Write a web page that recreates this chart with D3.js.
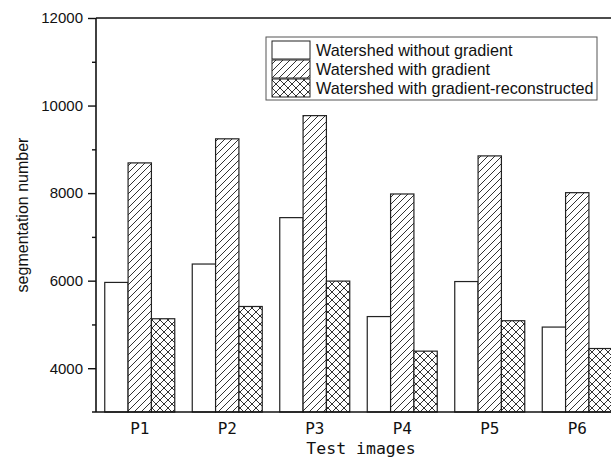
<!DOCTYPE html>
<html><head><meta charset="utf-8">
<script src="https://cdn.jsdelivr.net/npm/d3@7"></script>
<style>body{margin:0;background:#fff}svg{display:block}</style>
</head><body>
<svg id="c" width="611" height="457"></svg>
<script>
const categories = ["P1","P2","P3","P4","P5","P6"];
const seriesNames = ["Watershed without gradient","Watershed with gradient","Watershed with gradient-reconstructed"];
const withoutGradient = [5960, 6380, 7440, 5180, 5980, 4940];
const withGradient = [8690, 9240, 9770, 7980, 8850, 8010];
const reconstructed = [5130, 5410, 5990, 4390, 5085, 4450];
const yTicks = [4000, 6000, 8000, 10000, 12000];
const yMinorTicks = [5000, 7000, 9000, 11000];
const xTitle = "Test images";
const yTitle = "segmentation number";

(function(){
const series = [withoutGradient, withGradient, reconstructed];
const svg = d3.select("#c");
const mLeft = 96, mTop = 18, mBottom = 412;

const defs = svg.append("defs");
const diag = defs.append("pattern").attr("id","diag").attr("patternUnits","userSpaceOnUse")
  .attr("width",7).attr("height",7);
diag.append("rect").attr("width",7).attr("height",7).attr("fill","#fff");
diag.append("path").attr("d","M-1,8 L8,-1 M-4,4 L4,-4 M3,11 L11,3").attr("stroke","#333").attr("stroke-width",1);
const cross = defs.append("pattern").attr("id","cross").attr("patternUnits","userSpaceOnUse")
  .attr("width",8).attr("height",8);
cross.append("rect").attr("width",8).attr("height",8).attr("fill","#fff");
cross.append("path").attr("d","M0,0 L8,8 M0,8 L8,0 M-4,4 L4,12 M4,-4 L12,4 M-4,4 L4,-4 M4,12 L12,4").attr("stroke","#333").attr("stroke-width",1);
const fills = ["#fff","url(#diag)","url(#cross)"];

const x = d3.scaleBand().domain(categories).range([mLeft, mLeft + 525]).paddingInner(0.2).paddingOuter(0.1);
const xs = d3.scaleBand().domain(d3.range(3)).range([0, x.bandwidth()]);
const y = d3.scaleLinear().domain([3000, 12000]).range([mBottom, mTop]);

const g = svg.append("g");
categories.forEach((c, i) => {
  series.forEach((s, k) => {
    g.append("rect")
      .attr("x", x(c) + xs(k)).attr("y", y(s[i]))
      .attr("width", xs.bandwidth()).attr("height", y(3000) - y(s[i]))
      .attr("fill", fills[k]).attr("stroke","#222").attr("stroke-width",1.2);
  });
});

const ya = svg.append("g").attr("transform",`translate(${mLeft},0)`)
  .call(d3.axisLeft(y).tickValues(yTicks).tickSize(8).tickPadding(5).tickFormat(d3.format("d")));
ya.select(".domain").remove();
ya.selectAll("text").attr("font-family","Liberation Sans, Arial, sans-serif").attr("font-size",15).attr("fill","#111");
ya.selectAll("line").attr("stroke","#111").attr("stroke-width",1.4);
const ym = svg.append("g").attr("transform",`translate(${mLeft},0)`)
  .call(d3.axisLeft(y).tickValues(yMinorTicks).tickSize(4).tickFormat(""));
ym.select(".domain").remove();
ym.selectAll("line").attr("stroke","#111").attr("stroke-width",1.4);
svg.append("line").attr("x1",mLeft).attr("x2",mLeft).attr("y1",mTop).attr("y2",mBottom).attr("stroke","#111").attr("stroke-width",1.6);
svg.append("line").attr("x1",mLeft).attr("x2",611).attr("y1",mTop).attr("y2",mTop).attr("stroke","#111").attr("stroke-width",1.6);

const xa = svg.append("g").attr("transform",`translate(0,${mBottom})`)
  .call(d3.axisBottom(x).tickSize(0).tickPadding(11));
xa.select(".domain").remove();
xa.selectAll("text").attr("font-family","DejaVu Sans Mono, monospace").attr("font-size",16).attr("fill","#111");
svg.append("line").attr("x1",mLeft-4).attr("x2",611).attr("y1",mBottom).attr("y2",mBottom).attr("stroke","#111").attr("stroke-width",1.6);

svg.append("text").attr("x",361).attr("y",454).attr("text-anchor","middle")
  .attr("font-family","DejaVu Sans Mono, monospace").attr("font-size",16.5).attr("fill","#111").text(xTitle);
svg.append("text").attr("transform","translate(28,215) rotate(-90)").attr("text-anchor","middle")
  .attr("font-family","Liberation Sans, Arial, sans-serif").attr("font-size",16).attr("fill","#111").text(yTitle);

const lg = svg.append("g");
lg.append("rect").attr("x",266).attr("y",37).attr("width",331).attr("height",63)
  .attr("fill","#fff").attr("stroke","#555").attr("stroke-width",1);
seriesNames.forEach((n, k) => {
  lg.append("rect").attr("x",272).attr("y",41 + k*19).attr("width",38).attr("height",18)
    .attr("fill",fills[k]).attr("stroke","#222").attr("stroke-width",1);
  lg.append("text").attr("x",316).attr("y",56 + k*19)
    .attr("font-family","Liberation Sans, Arial, sans-serif").attr("font-size",16.2).attr("fill","#111").text(n);
});
})();
</script>
</body></html>
